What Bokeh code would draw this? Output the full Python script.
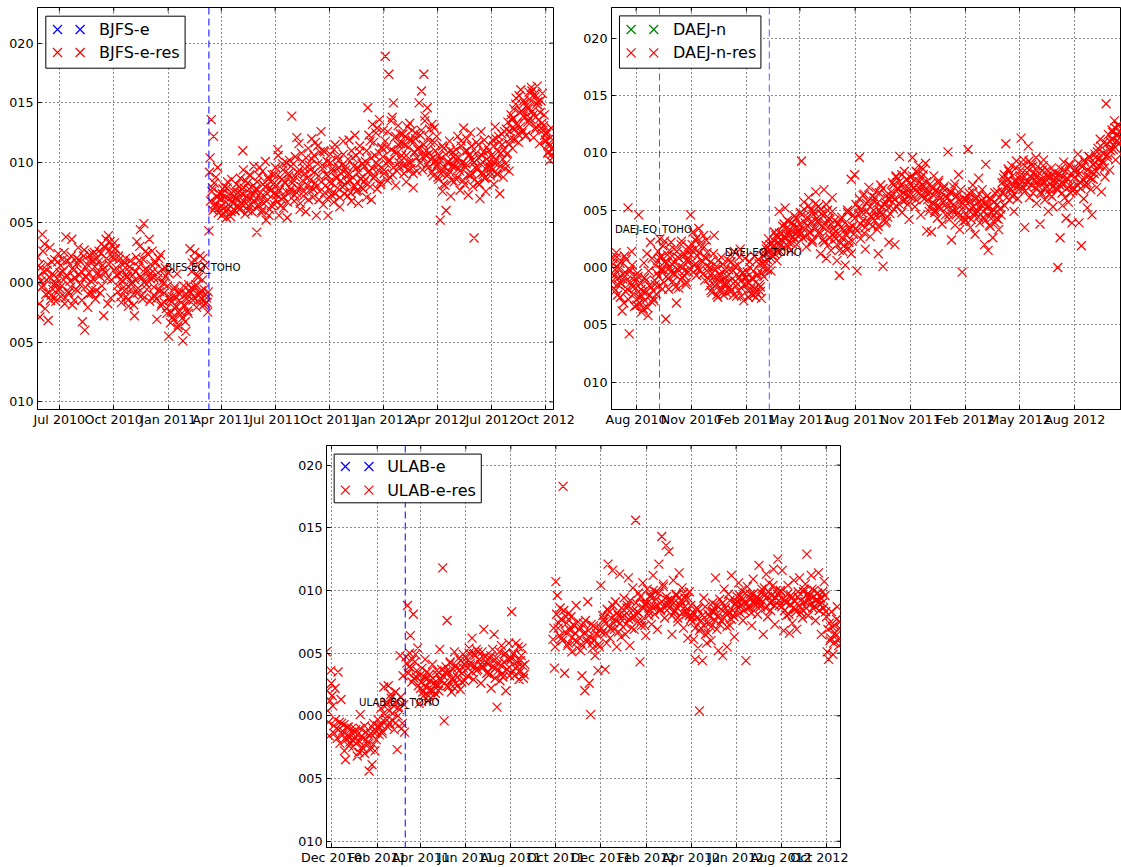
import numpy as np
import pandas as pd
from bokeh.plotting import figure
from bokeh.layouts import column, row
from bokeh.models import (Range1d, FixedTicker, DatetimeTickFormatter, Span, Label,
                          BoxAnnotation, Spacer)
from bokeh.embed import file_html
from bokeh.resources import INLINE

FONT = "DejaVu Sans"

# ---------------------------------------------------------------------------
# Residual time series (mm). Each station has two interleaved daily lists
# (even / odd days) per continuous stretch of solutions.
# ---------------------------------------------------------------------------
bjfs_pre_span = ("2010-05-25", "2011-03-09")
bjfs_pre_mm = [
    2.1, 1.4, -2.9, 0.1, 4.0, -0.3, 3.2, -1.0, 1.0, -3.2, 0.4, -1.5, 1.7, -0.6, 0.6, -1.3, -0.1, 1.7, -0.7,
    0.8, -1.2, 1.9, 0.2, -1.8, 3.8, 0.5, -0.9, 1.5, -0.4, 3.6, 1.2, -1.5, 0.3, 2.0, -0.7,
    1.9, -0.2, 0.9, -3.3, 2.2, -4.0, 0.4, 1.5, -1.0, 2.3, 0.1, -0.6, 1.8, 2.5, -1.4, 0.7,
    0.8, 2.6, -0.9, 3.2, 1.4, -2.8, 2.9, 3.6, 0.3, 3.9, 2.7, -1.3, 3.1, 2.0, 3.3,
    2.8, 0.6, -0.8, 1.9, 0.2, -1.7, 1.0, -0.4, 1.6, -1.2, 0.5, -2.0, 1.3, -0.6, 0.0, -1.0,
    -2.8, 0.9, 3.4, -0.5, 1.8, 4.4, 0.3, -1.4, 4.9, 1.1, -0.2, 2.4, 0.6, -1.6, 1.5,
    2.6, 0.4, -1.1, 1.7, -3.1, 0.8, -0.6, 2.3, -1.8, 0.1, -0.9, 1.2, -2.2, -0.3, -4.5, -1.5,
    -2.5, -1.2, -3.1, -0.4, -2.0, 0.7, -3.6, -1.5, -2.7, -0.8, -4.9, -1.9, -3.3, -1.0, -2.4, -0.2,
    2.8, -0.5, 1.6, -1.2, 2.5, -0.2, -1.6, 0.4, -0.9, 1.1, -1.4, 2.0, -0.6, -1.8,
    -1.3, -2.5,
]
bjfs_pre_odd_span = ("2010-05-26", "2011-03-10")
bjfs_pre_odd_mm = [
    0.5, -1.8, 1.2, -0.4, 2.6, 0.9, -2.2, 0.2, 1.5, -0.9, 2.9, -1.1, 0.7, -0.2, 1.9, -1.6, 0.3, 2.4, -0.5,
    1.4, -0.3, 0.9, 2.5, -1.3, 0.6, 1.8, -0.8, 0.1, 2.2, -1.9, 1.0, 0.4, -0.6, 1.6, 2.9,
    0.6, 1.7, -1.5, 0.3, 2.7, -0.4, 1.2, -2.1, 0.8, 1.9, -0.9, 2.4, 0.2, 1.3, -0.7, 2.0,
    1.7, 0.5, 2.4, -0.3, 1.1, 3.0, 0.8, 2.0, -1.8, 1.5, 3.4, 0.2, 2.2, 1.0, 2.8,
    1.2, -0.3, 2.2, 0.7, -1.2, 1.5, 0.1, -0.7, 2.0, 0.4, -1.5, 0.9, 1.8, -0.2, 0.6, -1.9,
    0.2, 2.1, -0.9, 1.3, 3.0, 0.5, -1.1, 1.9, 0.0, 2.6, -0.6, 1.0, 3.6, 0.3, -1.3,
    0.9, -0.4, 1.6, -1.4, 0.3, 2.0, -0.8, -2.0, 1.1, -0.1, -1.7, 0.5, -2.6, 0.8, -1.2, -3.4,
    -1.6, -2.9, -0.6, -2.2, -1.3, -3.8, -0.9, -2.4, -1.7, -3.0, -0.3, -2.0, -4.1, -1.4, -2.6, -0.7,
    -0.9, 0.9, -1.5, 1.9, -0.4, -2.1, 0.6, -1.1, 2.2, -0.7, 0.2, -1.9, 1.4, -1.0,
    -1.7, -0.8,
]
bjfs_post_span = ("2011-03-11", "2012-10-14")
bjfs_post_mm = [
    4.3, 10.4, 13.6, 7.9, 12.2, 6.3, 8.8, 7.1, 5.8, 7.4,
    6.9, 5.6, 7.8, 6.2, 7.1, 5.4, 8.4, 6.5, 7.3, 5.9, 6.8, 7.6, 6.0, 7.0, 6.4,
    7.5, 6.1, 8.7, 6.6, 11.0, 7.9, 5.7, 7.2, 8.3, 6.4, 9.0, 7.0, 5.9, 8.1, 6.8,
    7.8, 4.2, 6.3, 8.9, 7.1, 5.8, 9.3, 6.6, 8.0, 5.2, 7.4, 8.6, 6.1, 7.7, 9.0,
    8.2, 6.5, 9.6, 7.3, 11.1, 5.6, 8.8, 7.0, 9.9, 6.2, 8.4, 7.6, 5.4, 9.1, 10.2, 7.8,
    13.9, 8.6, 6.8, 10.5, 7.5, 9.2, 11.6, 6.1, 8.0, 10.1, 7.2, 9.5, 5.9, 8.7, 11.2, 7.7,
    9.4, 12.0, 7.1, 10.6, 8.3, 5.6, 11.4, 8.9, 7.6, 12.6, 9.8, 6.5, 10.9, 8.1, 7.0,
    5.6, 8.4, 10.7, 7.3, 9.5, 6.7, 11.5, 8.8, 7.9, 10.2, 6.3, 9.1, 8.0, 11.8, 7.4, 9.7,
    9.0, 7.2, 11.9, 8.5, 6.8, 10.4, 8.1, 12.3, 7.6, 9.6, 6.6, 10.9, 8.7, 7.9, 9.9,
    8.4, 10.1, 7.1, 14.6, 9.3, 11.8, 6.9, 13.2, 8.7, 10.6, 12.5, 7.8, 9.8, 13.6, 8.2, 11.2,
    12.7, 9.4, 18.9, 11.3, 8.5, 17.4, 10.2, 13.5, 9.0, 15.0, 12.1, 8.1, 10.8, 13.1, 9.7, 11.6,
    10.6, 12.4, 9.1, 11.5, 8.4, 13.0, 10.0, 11.9, 9.5, 12.7, 7.9, 10.9, 12.0, 9.3, 11.2,
    15.0, 12.3, 16.0, 10.5, 17.4, 13.9, 11.0, 14.6, 9.6, 12.8, 10.3, 13.2, 8.9, 11.7, 10.1, 12.2,
    8.8, 10.6, 5.2, 9.4, 7.6, 11.2, 8.1, 6.0, 10.0, 9.0, 11.8, 7.2, 9.7, 10.9, 8.4,
    10.3, 8.6, 12.2, 9.5, 7.7, 11.4, 10.0, 12.9, 8.2, 9.9, 11.0, 7.3, 10.7, 12.5, 9.1, 8.0,
    3.7, 9.6, 11.7, 8.3, 10.4, 7.0, 12.6, 9.2, 10.9, 8.7, 7.6, 11.3, 9.8, 10.1, 8.9,
    9.6, 11.9, 8.2, 13.0, 10.3, 9.0, 12.2, 7.4, 10.8, 11.5, 8.8, 12.6, 9.9, 10.7, 13.4, 9.3,
    12.0, 13.6, 11.2, 14.5, 12.8, 15.4, 13.1, 11.7, 14.2, 16.1, 12.5, 13.9, 15.0, 12.2, 14.8, 13.4,
    15.9, 13.7, 16.3, 14.3, 12.1, 15.5, 13.0, 16.4, 14.8, 11.6, 15.2, 13.3, 12.7, 14.0, 11.9,
    12.4, 10.8, 11.6, 10.2, 12.9, 11.1, 10.5,
]
bjfs_post_odd_span = ("2011-03-12", "2012-10-13")
bjfs_post_odd_mm = [
    9.2, 6.8, 7.6, 6.0, 8.3, 6.6, 7.2, 9.6, 6.2, 7.0,
    6.3, 7.4, 5.8, 8.0, 6.7, 7.9, 6.1, 7.0, 5.5, 8.6, 6.6, 7.2, 6.0, 8.2, 7.5,
    6.9, 8.0, 6.2, 7.4, 9.4, 6.7, 8.5, 7.1, 6.0, 7.8, 8.9, 6.5, 7.3, 9.7, 7.6,
    7.0, 8.4, 6.5, 9.6, 7.5, 6.0, 8.2, 7.2, 10.1, 6.8, 8.8, 5.6, 7.9, 6.4, 8.5,
    7.4, 9.0, 6.9, 8.1, 10.6, 7.7, 6.4, 8.6, 9.4, 7.1, 8.3, 10.0, 6.7, 8.9, 7.5, 9.7,
    8.3, 9.9, 7.3, 8.8, 12.1, 7.9, 9.4, 6.6, 10.8, 8.5, 7.6, 9.1, 10.4, 8.1, 6.9, 9.8,
    8.6, 10.3, 7.8, 9.2, 11.7, 8.0, 9.9, 6.9, 10.9, 8.4, 9.5, 11.0, 7.5, 9.0, 10.1,
    8.9, 7.7, 10.0, 8.3, 9.3, 11.1, 7.4, 8.7, 10.5, 9.6, 7.1, 8.5, 9.8, 10.7, 8.1, 9.4,
    8.4, 10.3, 9.0, 7.5, 11.0, 8.8, 9.7, 8.0, 10.6, 7.7, 9.2, 11.4, 8.6, 9.9, 7.8,
    9.7, 8.6, 11.0, 9.2, 12.3, 8.0, 10.4, 9.5, 11.7, 8.9, 10.0, 12.9, 9.4, 10.8, 8.4, 11.3,
    10.5, 9.1, 11.8, 9.9, 12.6, 10.2, 8.8, 11.1, 13.8, 9.6, 10.9, 12.2, 9.3, 11.5, 10.0, 12.4,
    10.2, 11.6, 9.8, 12.2, 10.6, 9.4, 11.3, 13.3, 10.0, 11.9, 9.1, 10.8, 12.5, 10.4, 11.1,
    11.3, 10.0, 12.7, 9.4, 11.5, 13.5, 10.6, 9.9, 12.1, 10.8, 11.7, 9.2, 10.4, 12.9, 11.0, 9.7,
    9.9, 8.6, 10.3, 9.1, 11.4, 8.2, 9.6, 10.7, 8.9, 10.1, 9.3, 11.0, 8.5, 9.8, 10.5,
    9.7, 11.1, 8.8, 10.4, 9.3, 11.8, 10.0, 8.5, 10.9, 9.6, 12.0, 9.0, 10.6, 8.9, 11.4, 10.2,
    10.0, 8.6, 10.8, 9.4, 11.5, 8.2, 9.9, 10.6, 9.0, 11.9, 8.8, 10.3, 9.6, 11.0, 9.2,
    10.6, 9.4, 11.4, 10.0, 12.0, 9.1, 10.9, 11.7, 9.7, 12.4, 10.3, 11.1, 9.5, 12.8, 10.8, 11.6,
    12.6, 14.0, 12.9, 13.7, 11.9, 14.9, 13.3, 12.4, 15.6, 13.0, 14.3, 12.7, 15.2, 13.8, 12.3, 14.6,
    14.5, 15.3, 13.4, 16.0, 14.0, 15.7, 12.8, 14.9, 15.1, 13.6, 14.2, 12.9, 15.8, 13.1, 12.3,
    11.8, 12.6, 10.9, 11.4, 12.1, 10.7, 11.3,
]

daej_span = ("2010-06-21", "2012-10-18")
daej_mm = [
    -0.5, 0.8, -1.8, -0.2, 1.3, -2.4, -0.9, 0.4, -1.4, -3.8, -0.6, 1.0, -2.1, -1.1, 5.2, -5.8, -0.3, 1.4, -1.7, -0.8,
    -1.2, -2.8, -0.5, 4.6, -3.1, -1.9, -2.5, -3.6, -0.9, -2.2, 1.2, -4.2, -1.6, 2.2, -3.0, -2.0,
    -2.9, -1.5, -2.3, 0.6, -0.8, 2.5, 1.0, -1.9, -0.2, 2.3, -4.5, 0.4, -1.0, 1.5, -0.4,
    0.3, -1.2, 1.6, -0.6, -3.1, 0.9, -1.8, 0.1, 2.0, -0.9, 1.2, -0.3, -1.5, 0.7, 1.8, -0.1,
    4.6, 1.5, 3.1, 0.2, 2.4, -0.7, 1.0, 3.4, -0.2, 1.8, 0.5, 2.8, -1.1, 0.8, 1.3,
    -0.4, -1.6, 0.5, -2.2, -0.9, 2.8, -1.3, 0.1, -2.6, -0.6, -1.9, 0.9, -1.1, -2.4, -0.2, -1.5,
    -0.8, 0.6, -1.7, 1.1, -2.0, -0.3, 1.4, -1.2, -2.5, 0.2, -0.9, 1.6, -1.8, -0.5, -2.9, 0.8,
    -1.5, -0.4, -2.6, 0.5, -1.9, -0.9, -2.4, 1.0, -1.3, -2.2, -0.6, 0.3, -1.7, -2.7,
    0.4, -0.8, 1.2, 1.9, 0.7, 2.5, 1.5, -0.3, 2.1, 1.0, 3.1, 1.7, 0.6, 2.6, 4.9, 1.4,
    2.4, 3.6, 1.8, 5.2, 2.9, 4.1, 2.2, 3.3, 1.5, 3.9, 2.7, 4.5, 3.0, 2.0, 3.5,
    3.2, 4.8, 9.3, 2.6, 5.7, 3.9, 1.8, 4.4, 6.1, 3.0, 5.0, 2.2, 4.6, 3.5, 6.6, 4.0,
    5.3, 3.1, 1.2, 4.7, 2.4, 6.8, 3.7, 0.8, 5.0, 2.0, 4.2, 1.5, 6.1, 3.4, 2.7,
    2.5, 0.6, 3.9, -0.7, 2.1, 4.4, 1.4, 3.2, 0.2, 2.8, 5.0, 1.7, 3.5, 7.7, 2.3, 4.6,
    8.1, 3.4, -0.3, 5.2, 9.6, 2.5, 4.8, 6.3, 3.0, 1.6, 5.6, 4.0, 7.0, 2.7, 4.5, 3.6,
    5.8, 4.1, 6.6, 3.3, 1.2, 5.0, 7.2, 4.6, 0.1, 5.5, 3.9, 6.3, 4.4, 2.2, 5.9,
    6.2, 7.4, 5.1, 2.0, 8.0, 6.9, 5.6, 9.7, 7.1, 4.8, 6.5, 8.4, 5.9, 7.7, 6.3, 4.2,
    7.9, 6.1, 9.6, 7.0, 5.3, 8.4, 6.6, 8.9, 7.5, 4.6, 7.2, 8.1, 6.0, 9.1, 3.2,
    6.4, 4.9, 7.3, 3.1, 5.7, 8.0, 5.0, 6.8, 4.3, 7.6, 5.3, 6.1, 3.8, 6.9, 5.8, 4.6,
    5.6, 10.1, 4.2, 6.5, 2.4, 5.0, 7.0, 3.7, 6.2, 4.7, 8.1, 3.3, 5.4, -0.4, 4.4, 6.0,
    4.1, 5.9, 10.3, 6.5, 3.5, 5.2, 7.2, 4.6, 2.9, 6.1, 4.9, 7.8, 3.9, 5.5, 6.8,
    4.4, 2.0, 9.0, 5.3, 1.5, 3.7, 6.0, 4.8, 2.6, 5.7, 3.9, 4.3, 6.6, 3.3, 5.1, 4.6,
    6.5, 7.8, 5.4, 10.8, 7.2, 8.6, 5.9, 6.8, 8.9, 6.2, 4.9, 7.5, 9.3, 6.0, 7.1,
    8.0, 11.3, 6.8, 9.4, 3.5, 7.3, 8.7, 10.6, 6.1, 7.9, 9.0, 6.5, 8.3, 7.0, 5.6, 8.8,
    7.6, 3.8, 6.4, 8.5, 9.4, 5.9, 7.1, 8.0, 4.9, 6.8, 7.9, 6.2, 5.3, 8.3, 7.3,
    6.9, 0.0, 8.2, 2.6, 7.4, 5.4, 9.2, 6.1, 4.3, 7.8, 5.7, 8.9, 6.5, 3.9, 7.0, 8.5,
    8.3, 6.6, 9.9, 3.9, 7.4, 1.9, 8.8, 6.0, 9.2, 7.1, 5.2, 8.0, 9.6, 6.8, 4.6, 7.7,
    8.2, 9.6, 7.0, 10.4, 8.8, 11.2, 6.6, 9.3, 10.9, 7.9, 14.3, 9.8, 11.6, 8.5, 10.2,
    12.0, 10.3, 12.8, 9.4, 11.5, 12.4, 10.8, 11.9, 9.9,
]
daej_odd_span = ("2010-06-22", "2012-10-17")
daej_odd_mm = [
    -1.2, 0.3, -0.7, -2.0, 0.9, -1.5, -0.1, -2.6, 0.5, -1.0, -3.1, -0.4, 0.7, -1.9, -2.8, -0.2, -1.3, 0.2, -2.3, -3.4,
    -1.8, -3.3, -0.8, -2.6, -1.4, -3.9, -2.1, 0.4, -2.9, -1.1, -3.5, -0.3, -2.4, -1.7, 0.8, -2.7,
    -1.1, 0.2, -0.5, 1.4, -1.6, 0.8, -0.2, 1.9, -1.3, 0.5, -0.8, 1.1, -1.9, 0.0, 2.2,
    1.0, -0.5, 0.4, -1.7, 1.4, -0.2, 0.8, -1.1, 2.3, 0.0, -0.7, 1.1, -1.3, 0.5, -0.4, 1.6,
    1.1, 2.0, -0.4, 1.6, 0.3, 2.6, -0.1, 1.3, 2.1, 0.6, -0.6, 1.8, 0.9, 2.4, 0.1,
    -1.0, 0.0, -2.0, -0.5, 1.2, -1.6, -0.2, -2.4, 0.6, -1.2, -0.7, -2.0, 0.3, -1.4, -0.9, -2.2,
    -1.3, -0.2, -2.1, 0.5, -1.0, -2.4, 0.1, -1.6, -0.6, -2.0, 0.9, -1.2, -2.5, -0.4, -1.5, -0.9,
    -0.9, -2.0, -1.4, 0.0, -2.3, -1.0, -0.3, -1.8, -2.6, -0.7, 0.7, -1.5, -2.1, -0.5,
    0.0, 1.0, 0.5, 1.6, -0.2, 1.3, 2.0, 0.8, 1.8, 2.4, 1.2, 2.8, 1.5, 2.2, 3.0, 1.9,
    3.0, 2.3, 3.8, 2.6, 3.4, 1.9, 4.0, 2.8, 3.2, 2.1, 3.7, 2.5, 4.3, 3.1, 2.7,
    3.8, 2.9, 4.6, 3.4, 5.1, 2.7, 4.2, 3.6, 5.4, 3.1, 4.0, 2.4, 4.9, 3.3, 5.6, 4.3,
    4.0, 2.9, 5.1, 3.6, 4.5, 2.2, 3.9, 5.5, 3.2, 4.3, 2.6, 3.8, 4.9, 3.0, 4.1,
    3.1, 2.0, 3.7, 1.5, 4.2, 2.6, 3.4, 1.9, 3.9, 2.8, 4.8, 2.2, 3.3, 1.2, 3.6, 2.9,
    4.3, 5.5, 3.2, 4.7, 6.0, 3.8, 5.1, 4.1, 6.4, 3.5, 4.9, 5.8, 3.9, 5.3, 4.4, 6.2,
    5.0, 6.1, 4.5, 5.6, 3.6, 6.5, 4.8, 5.3, 6.9, 4.2, 5.7, 4.0, 6.0, 5.2, 4.7,
    6.6, 5.7, 7.2, 6.0, 7.9, 5.3, 6.8, 7.5, 6.3, 8.1, 5.8, 7.0, 6.4, 7.7, 5.5, 6.9,
    7.3, 6.4, 8.0, 6.9, 7.6, 5.9, 8.3, 7.0, 6.5, 7.8, 6.2, 8.6, 7.1, 6.7, 7.5,
    5.9, 6.6, 5.2, 7.0, 5.6, 6.3, 4.8, 6.7, 5.4, 7.4, 6.0, 5.1, 6.5, 5.7, 7.1, 6.2,
    5.2, 6.1, 4.6, 5.7, 6.6, 4.9, 5.5, 7.3, 5.0, 6.3, 4.4, 5.8, 6.8, 5.1, 4.0, 5.9,
    5.4, 4.5, 6.2, 5.0, 5.8, 4.2, 6.6, 5.3, 4.8, 6.0, 5.6, 4.4, 6.4, 5.1, 5.9,
    4.9, 5.6, 4.1, 6.2, 4.6, 5.3, 3.6, 5.9, 4.4, 5.0, 6.5, 4.8, 5.5, 4.2, 6.1, 5.2,
    7.4, 6.6, 8.1, 7.0, 6.1, 7.7, 8.4, 6.9, 7.3, 8.0, 6.4, 7.6, 8.7, 7.1, 6.8,
    7.7, 8.5, 7.1, 9.0, 7.9, 6.7, 8.3, 7.4, 9.3, 8.0, 7.2, 8.8, 7.6, 8.1, 9.6, 7.5,
    7.1, 8.2, 6.6, 7.7, 8.9, 7.4, 6.9, 8.5, 7.9, 6.4, 7.3, 8.7, 7.0, 8.0, 7.6,
    7.5, 6.8, 8.1, 7.2, 8.6, 6.5, 7.9, 7.3, 8.4, 6.9, 7.7, 9.0, 7.1, 8.2, 6.7, 7.8,
    7.9, 8.6, 7.2, 9.1, 8.2, 6.9, 8.8, 7.6, 9.4, 8.0, 7.4, 8.5, 9.7, 7.8, 8.3, 9.0,
    9.0, 9.9, 8.4, 10.1, 9.4, 8.9, 10.6, 9.2, 10.0, 8.7, 9.7, 10.8, 9.5, 10.3, 11.0,
    11.2, 11.8, 10.6, 12.2, 11.0, 11.6, 12.5, 10.9, 11.4,
]

ulab_a_span = ("2010-11-24", "2011-03-10")
ulab_a_mm = [
    5.1, 0.4, -1.6, 3.6,
    1.6, -0.8, 2.2, -1.0, 3.5, -0.5, 1.3, -1.2, -0.7, -3.5, -1.6, -0.9, -2.1, -1.3, -2.5, -1.8,
    -1.1, -3.2, -2.0, 0.1, -1.6, -2.6, -0.8, -1.9, -2.3, -4.4, -1.4, -3.9, -0.6, -2.8, -1.2, -0.3,
    -0.9, 0.6, -1.4, 2.3, -0.2, 0.9, 2.4, -0.6, 1.4, 0.2, -1.1, 1.9, -2.7, 0.7,
    4.8, -1.0, 3.2, -1.3,
]
ulab_a_odd_span = ("2010-11-25", "2011-03-09")
ulab_a_odd_mm = [
    2.0, -0.5, 1.2, 2.6,
    0.8, -1.4, -0.3, -1.8, -1.1, -2.2, -0.6, -1.5, -2.8, -1.9, -0.9, -2.4, -1.7, -1.0, -2.0, -1.3,
    -2.2, -1.5, -2.9, -1.0, -2.5, -1.8, -3.0, -1.3, -2.1, -1.6, -2.7, -0.9, -2.3, -1.4, -1.9, -0.8,
    -1.5, -0.7, -1.2, 0.2, -0.5, 1.1, -0.9, 0.4, 1.7, -0.3, 0.8, -0.6, 1.2, 0.0,
    0.5, 1.5, -0.6, 0.9,
]
ulab_b_span = ("2011-03-12", "2011-08-20")
ulab_b_mm = [
    4.7, 8.8, 3.9, 6.4, 2.7, 8.1, 4.3, 3.1, 5.4, 1.0,
    2.2, 3.8, 1.6, 4.5, 2.9, 1.2, 3.3, 2.0, 4.1, 2.6, 1.8, 3.6, 2.4, 5.3, 2.8,
    11.8, -0.4, 3.5, 7.6, 2.3, 4.2, 1.9, 3.0, 5.1, 2.6, 3.8, 4.6, 2.1, 3.4, 4.9, 2.8,
    4.3, 3.2, 5.4, 4.0, 6.2, 2.9, 4.8, 3.6, 5.1, 4.5, 2.6, 3.9, 6.9, 4.7, 3.4,
    3.5, 4.6, 2.2, 5.3, 6.5, 3.8, 0.7, 4.2, 2.8, 5.6, 3.1, 4.9, 2.0, 3.7, 5.8, 4.4,
    8.3, 4.9, 3.2, 5.8, 3.9, 2.9, 4.4, 5.4, 3.0, 4.1,
]
ulab_b_odd_span = ("2011-03-13", "2011-08-19")
ulab_b_odd_mm = [
    4.2, 3.4, 5.0, 3.8, 4.5, 3.0, 4.9, 3.6, 2.4, 3.2,
    2.7, 1.9, 3.1, 2.3, 3.5, 1.6, 2.8, 2.1, 3.0, 1.5, 2.5, 3.3, 2.0, 2.9, 3.7,
    3.2, 2.6, 3.9, 2.4, 3.5, 4.3, 2.9, 3.7, 2.2, 4.0, 3.1, 3.6, 4.4, 2.7, 3.8, 4.1,
    4.6, 3.8, 5.0, 4.2, 3.5, 4.9, 4.0, 5.3, 3.7, 4.5, 4.1, 5.1, 3.9, 4.7, 4.3,
    4.1, 3.3, 4.8, 3.9, 4.4, 3.0, 4.6, 3.6, 5.1, 4.0, 3.4, 4.3, 5.0, 3.7, 4.5, 3.2,
    4.6, 3.6, 5.0, 3.8, 4.3, 5.5, 3.5, 4.8, 4.0, 3.3,
]
ulab_c_span = ("2011-09-27", "2012-10-20")
ulab_c_mm = [
    6.1, 3.8,
    10.7, 9.6, 7.4, 8.6, 6.2, 18.3, 3.4, 7.9, 5.6, 8.2, 6.8, 5.1, 7.3, 6.0, 8.8, 5.4,
    6.9, 5.2, 3.2, 7.4, 2.0, 6.1, 9.1, 2.6, 0.1, 5.8, 7.2, 4.8, 6.6, 3.6, 5.5,
    10.4, 6.6, 7.7, 3.7, 5.8, 12.1, 8.3, 6.9, 11.6, 7.4, 9.1, 5.5, 8.0, 11.3, 6.3, 7.9,
    9.4, 6.5, 8.6, 11.0, 5.6, 7.8, 10.2, 6.9, 15.6, 8.3, 9.8, 4.3, 7.2, 10.6, 8.9, 6.4,
    10.1, 8.0, 9.5, 7.3, 11.2, 8.7, 9.9, 6.9, 12.1, 8.4, 14.3, 10.5, 7.8, 13.6, 9.2,
    13.1, 9.0, 6.5, 10.8, 8.3, 9.7, 7.5, 11.4, 8.8, 10.2, 7.0, 9.4, 8.1, 6.2, 9.9, 7.7,
    7.9, 6.1, 4.5, 8.6, 5.4, 0.4, 7.0, 4.4, 9.4, 6.5, 5.8, 8.1, 7.4, 6.0, 9.0,
    8.6, 11.0, 6.9, 5.2, 9.3, 7.6, 4.8, 10.1, 8.2, 5.5, 9.7, 7.2, 11.2, 8.0, 6.3, 9.0,
    9.5, 10.6, 8.2, 10.0, 7.6, 9.0, 4.4, 10.3, 8.6, 9.7, 7.2, 10.9, 8.9, 9.4, 8.1,
    12.0, 8.7, 10.1, 6.5, 9.6, 11.3, 7.9, 10.6, 8.4, 9.2, 11.7, 7.3, 10.0, 12.5, 8.8, 9.9,
    11.6, 6.8, 9.2, 8.0, 10.4, 6.6, 9.6, 7.4, 10.8, 8.5, 6.9, 9.9, 11.0, 8.2, 7.8, 10.1,
    10.5, 12.9, 8.0, 9.6, 11.2, 8.6, 10.0, 7.6, 9.3, 11.4, 8.9, 6.5, 9.9, 10.7, 8.3,
    5.1, 4.5, 6.0, 8.3, 4.9, 7.2, 6.4, 8.7, 5.6, 7.5,
]
ulab_c_odd_span = ("2011-09-28", "2012-10-19")
ulab_c_odd_mm = [
    7.0, 5.5,
    8.1, 7.0, 6.4, 7.7, 6.0, 8.4, 6.7, 7.4, 5.8, 6.9, 7.9, 6.3, 7.2, 6.6, 5.9, 7.5,
    6.2, 7.0, 5.6, 6.6, 7.6, 5.9, 6.8, 6.3, 7.3, 5.4, 6.1, 7.0, 6.5, 5.7, 6.9,
    7.0, 8.0, 7.5, 6.6, 8.5, 7.2, 6.2, 7.8, 8.8, 6.9, 7.6, 8.2, 6.7, 7.4, 8.6, 7.1,
    8.0, 7.3, 8.8, 7.7, 9.2, 7.0, 8.4, 7.9, 9.0, 7.5, 8.2, 9.5, 7.6, 8.6, 7.2, 8.9,
    9.0, 8.3, 9.6, 8.7, 10.0, 8.1, 9.3, 8.8, 9.8, 8.5, 9.1, 10.3, 8.6, 9.5, 8.9,
    8.6, 9.3, 8.0, 9.0, 8.4, 9.6, 7.8, 8.9, 9.2, 8.2, 9.8, 8.7, 8.3, 9.4, 8.0, 8.8,
    7.5, 8.2, 7.0, 7.8, 8.5, 6.8, 7.6, 8.0, 7.2, 8.7, 7.4, 6.6, 7.9, 7.1, 8.3,
    8.3, 7.6, 8.8, 8.0, 7.3, 8.5, 9.0, 7.8, 8.6, 7.1, 8.2, 9.2, 7.7, 8.4, 7.9, 8.9,
    9.1, 8.6, 9.6, 8.9, 9.3, 8.4, 9.8, 9.0, 8.7, 9.4, 8.2, 9.7, 9.2, 8.8, 9.5,
    9.3, 8.9, 9.8, 9.1, 10.2, 8.6, 9.5, 9.9, 9.0, 9.6, 10.4, 8.8, 9.4, 9.7, 9.2, 10.0,
    8.7, 9.3, 8.4, 9.0, 9.7, 8.1, 8.9, 9.4, 8.6, 9.1, 8.3, 9.5, 8.8, 9.2, 8.5, 9.9,
    9.1, 8.6, 9.7, 9.3, 8.9, 10.1, 9.5, 8.7, 9.2, 9.8, 8.4, 9.4, 9.0, 8.6, 9.6,
    7.9, 6.9, 7.4, 6.2, 7.1, 5.8, 6.6, 7.7, 6.0, 7.0,
]

# Event epochs and their annotation heights (m)
bjfs_events = ["2011-03-11"]
bjfs_event_y = [0.0012]
daej_events = ["2010-09-09", "2011-03-11"]
daej_event_y = [0.0033, 0.0013]
ulab_events = ["2011-03-11"]
ulab_event_y = [0.0011]

# Axis ticks; the printed y labels are the part of each value left of the page edge
y_ticks = [-0.010, -0.005, 0.000, 0.005, 0.010, 0.015, 0.020]
y_tick_labels = ["010", "005", "000", "005", "010", "015", "020"]
bjfs_x_ticks = ["2010-07-01", "2010-10-01", "2011-01-01", "2011-04-01", "2011-07-01",
                "2011-10-01", "2012-01-01", "2012-04-01", "2012-07-01", "2012-10-01"]
daej_x_ticks = ["2010-08-01", "2010-11-01", "2011-02-01", "2011-05-01", "2011-08-01",
                "2011-11-01", "2012-02-01", "2012-05-01", "2012-08-01"]
ulab_x_ticks = ["2010-12-01", "2011-02-01", "2011-04-01", "2011-06-01", "2011-08-01", "2011-10-01",
                "2011-12-01", "2012-02-01", "2012-04-01", "2012-06-01", "2012-08-01", "2012-10-01"]


def ms(d):
    return pd.Timestamp(d).value / 1e6


TICK_PX = "12.7px"
HALF = 4.5      # half width of an "x" marker, px
TICK_LEN = 4    # inward tick length, px
MARK_W = 1.2    # stroke width of the "x" markers


class Panel:
    def __init__(self, width, height, borders, xspan, yspan, xticks, right_ticks=True):
        left, right, top, bottom = borders
        self.xr = (ms(xspan[0]), ms(xspan[1]))
        self.yr = yspan
        self.fw = width - left - right
        self.fh = height - top - bottom
        # data units per screen pixel
        self.px = (self.xr[1] - self.xr[0]) / self.fw
        self.py = (self.yr[1] - self.yr[0]) / self.fh
        p = figure(width=width, height=height, x_axis_type="datetime",
                   x_range=Range1d(*self.xr), y_range=Range1d(*self.yr),
                   output_backend="svg", toolbar_location=None,
                   min_border_left=left, min_border_right=right,
                   min_border_top=top, min_border_bottom=bottom)
        p.outline_line_color = "black"
        p.outline_line_width = 1
        p.outline_line_alpha = 1
        p.background_fill_color = "white"
        p.border_fill_color = "white"
        xt_ms = [ms(d) for d in xticks]
        xt = FixedTicker(ticks=xt_ms)
        yt = FixedTicker(ticks=y_ticks)
        for ax, t, so in ((p.xaxis[0], xt, 2), (p.yaxis[0], yt, 4)):
            ax.ticker = t
            ax.axis_line_color = "black"
            ax.major_tick_line_color = "black"
            ax.major_tick_in = TICK_LEN
            ax.major_tick_out = 0
            ax.minor_tick_in = 0
            ax.minor_tick_out = 0
            ax.major_label_text_font = FONT
            ax.major_label_text_color = "black"
            ax.major_label_text_font_size = TICK_PX
            ax.major_label_standoff = so
        p.xaxis[0].formatter = DatetimeTickFormatter(days="%b %Y", months="%b %Y", years="%b %Y")
        p.yaxis[0].major_label_overrides = dict(zip(y_ticks, y_tick_labels))
        for g, t in ((p.xgrid[0], xt), (p.ygrid[0], yt)):
            g.ticker = t
            g.grid_line_color = "black"
            g.grid_line_dash = "1 3"
            g.grid_line_width = 1
            g.grid_line_alpha = 0.9
        # inward ticks along the top edge (and the right edge when it is shown)
        top_y = self.yr[1]
        p.segment(xt_ms, [top_y] * len(xt_ms), xt_ms, [top_y - TICK_LEN * self.py] * len(xt_ms),
                  line_color="black", line_width=1)
        if right_ticks:
            rx = self.xr[1]
            p.segment([rx] * len(y_ticks), y_ticks, [rx - TICK_LEN * self.px] * len(y_ticks), y_ticks,
                      line_color="black", line_width=1)
        self.p = p

    def crosses(self, xs, ys, color, level="glyph"):
        # every "x" marker is two short strokes; all markers of one series form a
        # single polyline broken by NaN gaps, so the whole series is one stroke
        xs = np.asarray(xs, dtype=float)
        ys = np.asarray(ys, dtype=float)
        dx, dy = HALF * self.px, HALF * self.py
        gap = np.full_like(xs, np.nan)
        px_ = np.column_stack([xs - dx, xs + dx, gap, xs - dx, xs + dx, gap]).ravel()
        py_ = np.column_stack([ys - dy, ys + dy, gap, ys + dy, ys - dy, gap]).ravel()
        r = self.p.line(px_, py_, line_color=color, line_width=MARK_W, line_alpha=1)
        r.level = level

    def residuals(self, span, mm):
        t = pd.date_range(span[0], span[1], periods=len(mm))
        self.crosses(t.asi8 / 1e6, [m / 1000.0 for m in mm], "#ff0000")

    def events(self, dates, ys, name, alpha):
        for d, yv in zip(dates, ys):
            self.p.add_layout(Span(location=ms(d), dimension="height", line_color="blue",
                                   line_dash="7 4", line_width=1, line_alpha=alpha))
            self.p.add_layout(Label(x=ms(d), y=yv, text=name, text_align="center", x_offset=-6,
                                    text_baseline="middle", text_font=FONT, text_font_size="10.2px",
                                    text_color="black"))

    def key(self, box, marker_x, rows, text_x, entries):
        fx = lambda px: self.xr[0] + px * self.px
        fy = lambda py: self.yr[1] - py * self.py
        self.p.add_layout(BoxAnnotation(left=fx(box[0]), right=fx(box[2]), top=fy(box[1]),
                                        bottom=fy(box[3]), fill_color="white", fill_alpha=1,
                                        line_color="black", line_width=1, line_alpha=1,
                                        level="annotation"))
        for (label, color), ry in zip(entries, rows):
            self.crosses([fx(mx) for mx in marker_x], [fy(ry)] * len(marker_x), color, level="overlay")
            self.p.add_layout(Label(x=fx(text_x), y=fy(ry), text=label, text_font=FONT,
                                    text_font_size="16px", text_baseline="middle",
                                    text_color="black", level="overlay"))


# --- BJFS east ---
a = Panel(580, 432, (37, 27, 7, 23), ("2010-05-25", "2012-10-14"), (-0.01064, 0.02298), bjfs_x_ticks)
a.residuals(bjfs_pre_span, bjfs_pre_mm)
a.residuals(bjfs_pre_odd_span, bjfs_pre_odd_mm)
a.residuals(bjfs_post_span, bjfs_post_mm)
a.residuals(bjfs_post_odd_span, bjfs_post_odd_mm)
a.events(bjfs_events, bjfs_event_y, "BJFS-EQ_TOHO", 1.0)
a.key((8.3, 8.7, 147.6, 60.7), (20, 42.6), (22, 45), 61.6,
      [("BJFS-e", "#0000ff"), ("BJFS-e-res", "#ff0000")])

# --- DAEJ north ---
b = Panel(541, 432, (29, 0, 7, 23), ("2010-06-21", "2012-10-18"), (-0.0124, 0.0227), daej_x_ticks,
          right_ticks=False)
b.residuals(daej_span, daej_mm)
b.residuals(daej_odd_span, daej_odd_mm)
b.events(daej_events, daej_event_y, "DAEJ-EQ_TOHO", 0.65)
b.key((8.0, 8.4, 150.0, 60.7), (19.7, 42.4), (22, 45.4), 61.7,
      [("DAEJ-n", "#008000"), ("DAEJ-n-res", "#ff0000")])

# --- ULAB east ---
c = Panel(553, 435, (28, 8, 13, 20), ("2010-11-24 08:00", "2012-10-20 10:00"), (-0.0105, 0.02156),
          ulab_x_ticks)
c.residuals(ulab_a_span, ulab_a_mm)
c.residuals(ulab_a_odd_span, ulab_a_odd_mm)
c.residuals(ulab_b_span, ulab_b_mm)
c.residuals(ulab_b_odd_span, ulab_b_odd_mm)
c.residuals(ulab_c_span, ulab_c_mm)
c.residuals(ulab_c_odd_span, ulab_c_odd_mm)
c.events(ulab_events, ulab_event_y, "ULAB-EQ_TOHO", 1.0)
c.key((7.7, 8.6, 155.7, 57.3), (19, 42.7), (21, 44.6), 61,
      [("ULAB-e", "#0000ff"), ("ULAB-e-res", "#ff0000")])

layout = column(row(a.p, b.p), row(Spacer(width=295, height=435), c.p))

open("out.html", "w").write(file_html(layout, INLINE))
